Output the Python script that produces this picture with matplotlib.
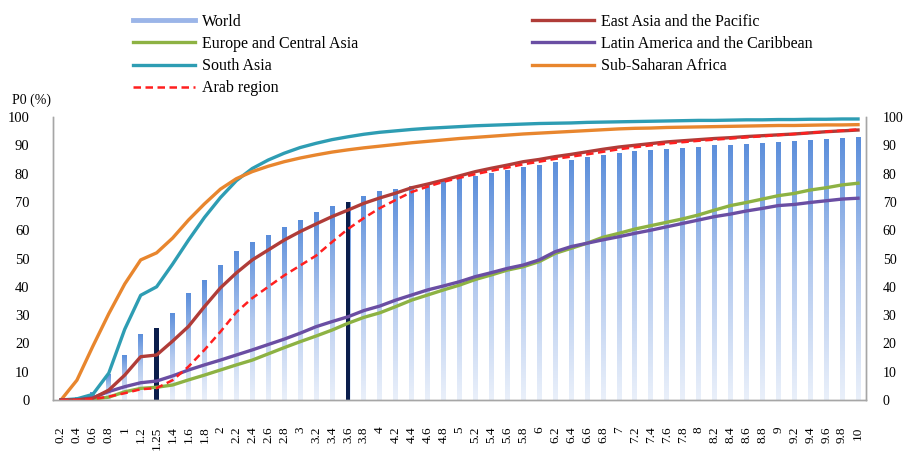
import matplotlib
matplotlib.use("Agg")
import matplotlib.pyplot as plt
import numpy as np
from matplotlib.colors import LinearSegmentedColormap
from matplotlib.lines import Line2D

plt.rcParams['font.family'] = ['Liberation Serif', 'DejaVu Serif']

# poverty lines (x axis categories)
categories = ['0.2', '0.4', '0.6', '0.8', '1', '1.2', '1.25', '1.4', '1.6', '1.8',
              '2', '2.2', '2.4', '2.6', '2.8', '3', '3.2', '3.4', '3.6', '3.8',
              '4', '4.2', '4.4', '4.6', '4.8', '5', '5.2', '5.4', '5.6', '5.8',
              '6', '6.2', '6.4', '6.6', '6.8', '7', '7.2', '7.4', '7.6', '7.8',
              '8', '8.2', '8.4', '8.6', '8.8', '9', '9.2', '9.4', '9.6', '9.8', '10']
highlight = ['1.25', '3.6']

world = [0.3, 0.8, 2.5, 9, 15.8, 23, 25.4, 30.7, 37.5, 42.4,
         47.7, 52.3, 55.8, 58.3, 60.8, 63.6, 66.3, 68.3, 69.9, 72,
         73.5, 74.5, 75.3, 76.3, 77.5, 78.2, 79, 80, 81.2, 82.2,
         83, 84, 84.8, 85.6, 86.5, 87.2, 87.7, 88, 88.4, 88.9,
         89.2, 89.8, 90.1, 90.4, 90.7, 91, 91.3, 91.8, 92.1, 92.5, 92.7]

south_asia = [0, 0.4, 2, 9.5, 25, 37, 40, 48, 56.5, 64.5,
              71.5, 77.5, 81.8, 84.8, 87.2, 89.2, 90.7, 92, 93, 93.9,
              94.6, 95.1, 95.6, 96, 96.3, 96.6, 96.9, 97.1, 97.3, 97.5,
              97.7, 97.8, 97.9, 98.1, 98.2, 98.3, 98.4, 98.5, 98.6, 98.7,
              98.8, 98.8, 98.9, 99, 99, 99.1, 99.1, 99.2, 99.2, 99.3, 99.3]

ssa = [0, 7, 19, 30.5, 41, 49.5, 52, 57.2, 63.6, 69.3,
       74.5, 78.2, 80.7, 82.6, 84.2, 85.5, 86.6, 87.6, 88.4, 89.1,
       89.7, 90.3, 90.9, 91.4, 91.9, 92.4, 92.8, 93.2, 93.6, 94,
       94.3, 94.6, 94.9, 95.2, 95.5, 95.8, 96, 96.1, 96.3, 96.4,
       96.5, 96.6, 96.7, 96.8, 96.9, 97, 97, 97.1, 97.2, 97.2, 97.3]

east_asia = [0, 0, 0.6, 3.5, 8.8, 15.3, 15.9, 20.8, 26, 33,
             39.6, 44.9, 49.5, 53, 56.5, 59.5, 62.2, 64.8, 67.1, 69.5,
             71.4, 73.1, 75, 76.3, 77.7, 79.2, 80.7, 81.9, 83, 84.2,
             85, 86, 86.8, 87.7, 88.6, 89.4, 90, 90.6, 91.2, 91.6,
             92, 92.4, 92.7, 93.1, 93.4, 93.7, 94, 94.4, 94.8, 95.1, 95.4]

arab = [0, 0, 0.3, 1.2, 2.4, 3.8, 4.2, 7, 11.8, 17.7,
        24.1, 31, 36, 40, 44, 47.5, 51, 55.8, 60.4, 64.3,
        67.8, 70.7, 73.5, 75.4, 77.1, 78.5, 79.8, 81, 82.1, 83.3,
        84.2, 85.2, 86, 86.8, 87.7, 88.6, 89.3, 90, 90.6, 91.1,
        91.6, 92, 92.4, 92.8, 93.2, 93.6, 94, 94.4, 94.8, 95.2, 95.6]

latin = [0, 0, 0.8, 3, 4.7, 6.1, 6.7, 8.5, 10.6, 12.4,
         14.1, 15.9, 17.7, 19.6, 21.5, 23.6, 25.9, 27.7, 29.4, 31.6,
         33.2, 35.3, 37.1, 38.9, 40.3, 41.8, 43.6, 45, 46.5, 47.7,
         49.5, 52.4, 54.2, 55.4, 56.6, 57.7, 58.9, 60, 61.2, 62.4,
         63.6, 64.8, 65.7, 66.8, 67.7, 68.7, 69.1, 69.8, 70.4, 71, 71.3]

europe = [0, 0, 0.3, 1, 2.9, 4.1, 4.5, 5.3, 7.1, 8.8,
          10.6, 12.4, 14.1, 16.3, 18.5, 20.6, 22.6, 24.7, 27.1, 29.2,
          30.8, 33, 35.3, 37.1, 38.9, 40.6, 42.6, 44.2, 45.9, 47.1,
          48.9, 51.8, 53.6, 55.4, 57.5, 58.9, 60.4, 61.6, 62.8, 64,
          65.4, 67.1, 68.7, 69.8, 71, 72.2, 73, 74.2, 75, 76, 76.6]

fig = plt.figure(figsize=(9.04, 4.51), dpi=100)
ax = fig.add_axes([53 / 904, 51 / 451, 813 / 904, 283 / 451])

x = np.arange(len(categories))
world = np.array(world)

# world bars with a vertical gradient
bar_cmap = LinearSegmentedColormap.from_list('wb', ['#eaf0fa', '#b4caef', '#5b8edb'])
grad = np.linspace(0, 1, 256).reshape(-1, 1)
bars = ax.bar(x, world, width=0.3, color='none', zorder=1)
for patch in bars:
    x0, y0 = patch.get_x(), patch.get_y()
    ax.imshow(grad, extent=[x0, x0 + patch.get_width(), y0, y0 + patch.get_height()],
              origin='lower', aspect='auto', cmap=bar_cmap, zorder=1, clip_path=patch)

hi_idx = [categories.index(c) for c in highlight]
ax.bar(x[hi_idx], world[hi_idx], width=0.3, color='#0b1e4c', zorder=2)

lw = 2.4
ax.plot(x, south_asia, color='#2e9db3', lw=lw, zorder=3)
ax.plot(x, ssa, color='#e8862e', lw=lw, zorder=3)
ax.plot(x, europe, color='#8db243', lw=lw, zorder=4)
ax.plot(x, latin, color='#6a4ea3', lw=lw, zorder=4)
ax.plot(x, east_asia, color='#b03c38', lw=lw, zorder=5)
ax.plot(x, arab, color='#ff1f1f', lw=1.8, ls=(0, (3, 1.8)), zorder=6)

ax.set_xlim(-0.5, len(categories) - 0.5)
ax.set_ylim(0, 100)
ax.set_yticks(range(0, 101, 10))
ax.set_xticks(x, categories, rotation=90, fontsize=9.5)
ax.tick_params(axis='x', length=0, pad=19)
ax.tick_params(axis='y', length=0, pad=17, labelsize=10.5)

ax2 = ax.twinx()
ax2.set_ylim(0, 100)
ax2.set_yticks(range(0, 101, 10))
ax2.tick_params(axis='y', length=0, pad=12, labelsize=10)

for a in (ax, ax2):
    a.spines['top'].set_visible(False)
    for s in ('left', 'right', 'bottom'):
        a.spines[s].set_color('#a6a6a6')
        a.spines[s].set_linewidth(1.0)

fig.text(12 / 904, 1 - 100 / 451, 'P0 (%)', va='center', ha='left', fontsize=10)

# legend in two columns
h_world = Line2D([], [], color='#9bb5e8', lw=3.5)
h_eur = Line2D([], [], color='#8db243', lw=lw)
h_sa = Line2D([], [], color='#2e9db3', lw=lw)
h_arab = Line2D([], [], color='#ff1f1f', lw=1.8, ls=(0, (3, 1.8)))
h_ea = Line2D([], [], color='#b03c38', lw=lw)
h_lat = Line2D([], [], color='#6a4ea3', lw=lw)
h_ssa = Line2D([], [], color='#e8862e', lw=lw)

leg_kw = dict(loc='upper left', frameon=False, fontsize=11.5, borderpad=0,
              borderaxespad=0, handlelength=3.9, handletextpad=0.4, labelspacing=0.38)
fig.legend([h_world, h_eur, h_sa, h_arab],
           ['World', 'Europe and Central Asia', 'South Asia', 'Arab region'],
           bbox_to_anchor=(133 / 904, 1 - 14 / 451), **leg_kw)
fig.legend([h_ea, h_lat, h_ssa],
           ['East Asia and the Pacific', 'Latin America and the Caribbean', 'Sub-Saharan Africa'],
           bbox_to_anchor=(532 / 904, 1 - 14 / 451), **leg_kw)

fig.savefig('out.png', dpi=100)
